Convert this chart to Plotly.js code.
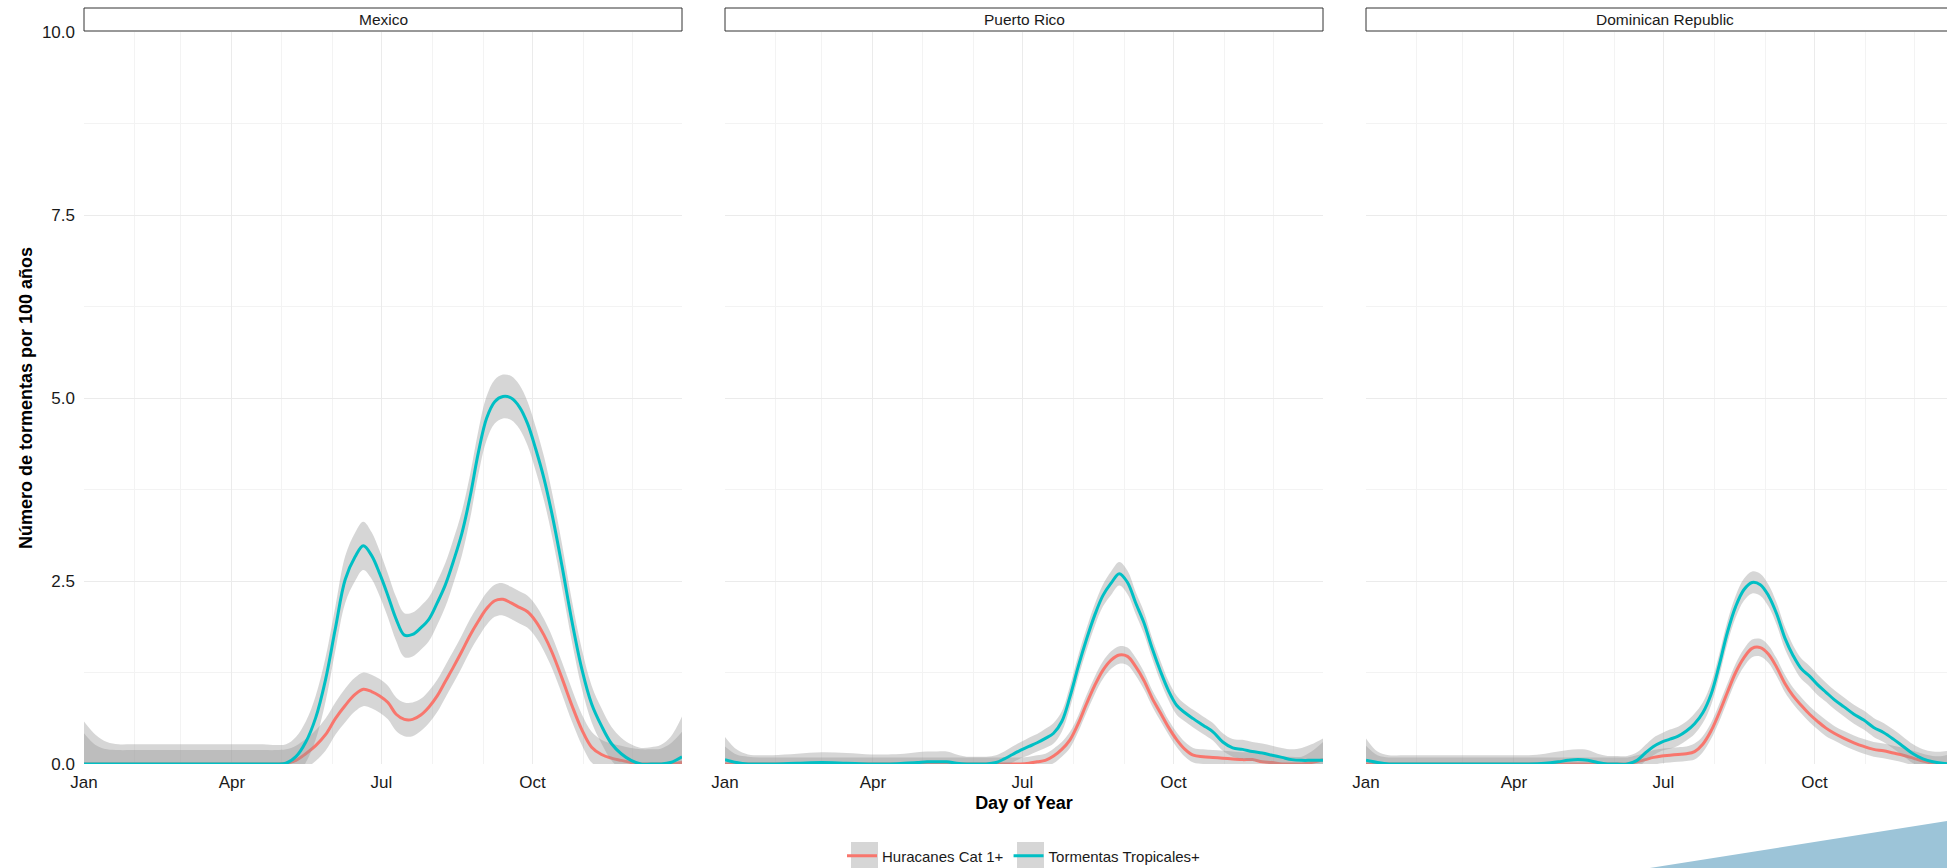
<!DOCTYPE html>
<html>
<head>
<meta charset="utf-8">
<script src="https://cdn.plot.ly/plotly-3.0.1.min.js"></script>
<style>
html,body{margin:0;padding:0;overflow:hidden;background:#ffffff;}
#chart{width:2000px;height:868px;}
</style>
</head>
<body>
<div id="chart"></div>
<script>
// ---------- DATA ----------
const countries = ['Mexico', 'Puerto Rico', 'Dominican Republic'];
const seriesNames = ['Huracanes Cat 1+', 'Tormentas Tropicales+'];
const monthLabels = ['Jan', 'Apr', 'Jul', 'Oct'];
const yTicks = [0, 2.5, 5, 7.5, 10];

// day of year
const days = [1, 8, 15, 22, 30, 45, 60, 75, 90, 100, 110, 118, 124, 130, 136, 142, 148, 154, 160, 166,
  171, 176, 181, 186, 191, 196, 201, 206, 211, 216, 221, 226, 231, 236, 241, 246, 251, 256, 261, 266,
  271, 276, 281, 286, 292, 298, 304, 310, 316, 322, 328, 334, 340, 346, 352, 358, 365];

// Mexico
const mexHur = [0, 0, 0, 0, 0, 0, 0, 0, 0, 0, 0, 0, 0.01, 0.05, 0.14, 0.25, 0.40, 0.62, 0.80, 0.95,
  1.02, 0.99, 0.93, 0.84, 0.68, 0.61, 0.61, 0.67, 0.78, 0.93, 1.13, 1.33, 1.54, 1.76, 1.95, 2.12, 2.23, 2.25, 2.20, 2.14,
  2.08, 1.95, 1.76, 1.52, 1.17, 0.80, 0.47, 0.23, 0.13, 0.08, 0.05, 0.02, 0, 0, 0, 0, 0.02];
const mexHurSE = [0.42, 0.26, 0.20, 0.19, 0.19, 0.19, 0.19, 0.19, 0.19, 0.19, 0.19, 0.19, 0.19, 0.20, 0.20, 0.21, 0.22, 0.22, 0.23, 0.23,
  0.23, 0.23, 0.23, 0.23, 0.23, 0.23, 0.23, 0.22, 0.22, 0.22, 0.22, 0.22, 0.22, 0.22, 0.22, 0.22, 0.22, 0.22, 0.22, 0.22,
  0.22, 0.22, 0.22, 0.22, 0.22, 0.22, 0.21, 0.21, 0.20, 0.20, 0.20, 0.20, 0.20, 0.20, 0.21, 0.28, 0.42];
const mexTor = [0, 0, 0, 0, 0, 0, 0, 0, 0, 0, 0, 0, 0.01, 0.10, 0.30, 0.63, 1.15, 1.85, 2.52, 2.83,
  2.98, 2.85, 2.60, 2.30, 1.98, 1.76, 1.77, 1.86, 1.98, 2.20, 2.45, 2.78, 3.15, 3.65, 4.25, 4.72, 4.95, 5.02, 5.00, 4.88,
  4.65, 4.30, 3.90, 3.40, 2.70, 1.95, 1.30, 0.82, 0.52, 0.28, 0.14, 0.05, 0, 0, 0, 0.02, 0.10];
const mexTorSE = [0.58, 0.40, 0.30, 0.27, 0.27, 0.27, 0.27, 0.27, 0.27, 0.27, 0.27, 0.26, 0.26, 0.27, 0.28, 0.30, 0.30, 0.30, 0.32, 0.33,
  0.33, 0.32, 0.31, 0.30, 0.30, 0.30, 0.30, 0.30, 0.30, 0.30, 0.30, 0.30, 0.30, 0.30, 0.30, 0.30, 0.30, 0.30, 0.30, 0.30,
  0.30, 0.30, 0.30, 0.30, 0.30, 0.28, 0.27, 0.25, 0.24, 0.23, 0.22, 0.22, 0.22, 0.23, 0.26, 0.35, 0.55];

// Puerto Rico
const prHur = [0, 0, 0, 0, 0, 0, 0, 0, 0, 0, 0, 0, 0, 0, 0, 0, 0, 0, 0, 0,
  0, 0, 0, 0.01, 0.03, 0.05, 0.11, 0.20, 0.33, 0.55, 0.82, 1.07, 1.28, 1.42, 1.49, 1.47, 1.33, 1.14, 0.90, 0.70,
  0.50, 0.33, 0.20, 0.12, 0.10, 0.09, 0.08, 0.07, 0.06, 0.06, 0.03, 0.02, 0, 0, 0, 0.02, 0.06];
const prHurSE = [0.24, 0.13, 0.10, 0.09, 0.09, 0.09, 0.09, 0.09, 0.09, 0.09, 0.09, 0.09, 0.09, 0.09, 0.09, 0.09, 0.09, 0.09, 0.09, 0.09,
  0.09, 0.09, 0.09, 0.09, 0.09, 0.09, 0.10, 0.10, 0.11, 0.11, 0.12, 0.12, 0.12, 0.12, 0.12, 0.12, 0.12, 0.12, 0.11, 0.11,
  0.10, 0.10, 0.10, 0.10, 0.10, 0.10, 0.10, 0.10, 0.10, 0.10, 0.10, 0.10, 0.10, 0.10, 0.10, 0.15, 0.24];
const prTor = [0.06, 0.02, 0, 0, 0, 0.01, 0.02, 0.01, 0, 0, 0.01, 0.02, 0.03, 0.03, 0.03, 0.01, 0, 0, 0, 0.02,
  0.07, 0.13, 0.19, 0.24, 0.29, 0.35, 0.42, 0.58, 0.92, 1.33, 1.70, 2.03, 2.30, 2.47, 2.60, 2.48, 2.20, 1.93, 1.58, 1.27,
  1.00, 0.80, 0.70, 0.62, 0.53, 0.44, 0.30, 0.22, 0.20, 0.17, 0.15, 0.12, 0.09, 0.06, 0.05, 0.05, 0.05];
const prTorSE = [0.31, 0.18, 0.13, 0.12, 0.12, 0.13, 0.14, 0.14, 0.13, 0.13, 0.13, 0.14, 0.14, 0.14, 0.14, 0.12, 0.10, 0.10, 0.10, 0.10,
  0.10, 0.11, 0.11, 0.12, 0.12, 0.13, 0.14, 0.14, 0.15, 0.15, 0.15, 0.15, 0.15, 0.16, 0.16, 0.16, 0.15, 0.15, 0.14, 0.14,
  0.13, 0.13, 0.12, 0.12, 0.12, 0.12, 0.12, 0.12, 0.13, 0.13, 0.13, 0.13, 0.13, 0.14, 0.17, 0.22, 0.30];

// Dominican Republic
const drHur = [0, 0, 0, 0, 0, 0, 0, 0, 0, 0, 0, 0, 0, 0, 0, 0, 0, 0, 0, 0.03,
  0.06, 0.09, 0.11, 0.12, 0.13, 0.14, 0.17, 0.27, 0.45, 0.70, 0.98, 1.25, 1.45, 1.58, 1.59, 1.50, 1.32, 1.10, 0.93, 0.80,
  0.68, 0.58, 0.49, 0.42, 0.35, 0.29, 0.24, 0.20, 0.18, 0.15, 0.12, 0.08, 0.04, 0.01, 0, 0, 0];
const drHurSE = [0.25, 0.12, 0.09, 0.09, 0.09, 0.09, 0.09, 0.09, 0.09, 0.09, 0.09, 0.09, 0.09, 0.09, 0.09, 0.09, 0.09, 0.09, 0.09, 0.09,
  0.09, 0.10, 0.10, 0.10, 0.10, 0.10, 0.11, 0.11, 0.11, 0.12, 0.12, 0.12, 0.12, 0.12, 0.12, 0.12, 0.12, 0.12, 0.11, 0.11,
  0.11, 0.11, 0.11, 0.10, 0.10, 0.10, 0.10, 0.10, 0.10, 0.10, 0.10, 0.10, 0.10, 0.10, 0.11, 0.15, 0.24];
const drTor = [0.05, 0.02, 0, 0, 0, 0, 0, 0, 0, 0, 0.01, 0.03, 0.05, 0.06, 0.05, 0.02, 0, 0, 0, 0.05,
  0.15, 0.24, 0.30, 0.34, 0.38, 0.45, 0.55, 0.70, 0.95, 1.35, 1.80, 2.15, 2.38, 2.48, 2.45, 2.30, 2.05, 1.72, 1.48, 1.30,
  1.20, 1.08, 0.98, 0.88, 0.78, 0.68, 0.60, 0.50, 0.43, 0.34, 0.24, 0.14, 0.07, 0.03, 0.01, 0, 0];
const drTorSE = [0.30, 0.15, 0.12, 0.12, 0.12, 0.12, 0.12, 0.12, 0.12, 0.12, 0.13, 0.14, 0.14, 0.14, 0.14, 0.12, 0.11, 0.11, 0.11, 0.11,
  0.11, 0.12, 0.12, 0.13, 0.13, 0.13, 0.14, 0.14, 0.15, 0.15, 0.15, 0.15, 0.15, 0.15, 0.15, 0.15, 0.15, 0.15, 0.14, 0.14,
  0.14, 0.14, 0.13, 0.13, 0.13, 0.13, 0.13, 0.13, 0.13, 0.13, 0.13, 0.13, 0.13, 0.14, 0.16, 0.20, 0.30];

// ---------- BUILD ----------
const FONT = 'Liberation Sans, Arial, Helvetica, sans-serif';
const seriesColors = ['#F8766D', '#00BFC4'];
const ribbonFill = 'rgba(153,153,153,0.4)';

function toDate(d) {
  const t = Date.UTC(2001, 0, 1) + (d - 1) * 86400000;
  return new Date(t).toISOString().slice(0, 10);
}
const xDates = days.map(toDate);

const panels = [
  {axis: '', series: [[mexHur, mexHurSE], [mexTor, mexTorSE]]},
  {axis: '2', series: [[prHur, prHurSE], [prTor, prTorSE]]},
  {axis: '3', series: [[drHur, drHurSE], [drTor, drTorSE]]}
];

const traces = [];
panels.forEach((p, pi) => {
  p.series.forEach(([vals, se], si) => {
    const common = {x: xDates, xaxis: 'x' + p.axis, yaxis: 'y' + p.axis, mode: 'lines', hoverinfo: 'skip'};
    traces.push(Object.assign({}, common, {
      y: vals.map((v, i) => v - se[i]), line: {width: 0, shape: 'spline', smoothing: 1}, showlegend: false
    }));
    traces.push(Object.assign({}, common, {
      y: vals.map((v, i) => v + se[i]), line: {width: 0, shape: 'spline', smoothing: 1},
      fill: 'tonexty', fillcolor: ribbonFill, showlegend: false
    }));
    traces.push(Object.assign({}, common, {
      y: vals, name: seriesNames[si], legendgroup: seriesNames[si], showlegend: pi === 0,
      line: {color: seriesColors[si], width: 3, shape: 'spline', smoothing: 1}
    }));
  });
});

const L = 84, PW = 1880;
const panelW = 598, gap = 43;
const domains = [0, 1, 2].map(i => [(i * (panelW + gap)) / PW, Math.min(1, (i * (panelW + gap) + panelW) / PW)]);

function xaxisDef(i) {
  return {
    domain: domains[i], anchor: i === 0 ? 'y' : 'y' + (i + 1),
    type: 'date', range: ['2001-01-01', '2001-12-31'],
    tickmode: 'array',
    tickvals: monthLabels.map((m, k) => toDate([1, 91, 182, 274][k])),
    ticktext: monthLabels,
    showgrid: true, gridcolor: '#EBEBEB', gridwidth: 1.2,
    minor: {dtick: 'M1', tick0: '2001-01-01', showgrid: true, gridcolor: '#F3F3F3', gridwidth: 1, ticks: ''},
    zeroline: false, showline: false, ticks: '', ticklabelstandoff: 6,
    tickfont: {size: 17, color: '#1a1a1a', family: FONT},
    fixedrange: true, automargin: false
  };
}
function yaxisDef(i) {
  return {
    domain: [0, 1], anchor: i === 0 ? 'x' : 'x' + (i + 1),
    range: [0, 10], tickmode: 'array', tickvals: yTicks, ticktext: yTicks.map(v => v.toFixed(1)),
    showticklabels: i === 0,
    showgrid: true, gridcolor: '#EBEBEB', gridwidth: 1.2,
    minor: {tickmode: 'array', tickvals: [1.25, 3.75, 6.25, 8.75], showgrid: true, gridcolor: '#F3F3F3', gridwidth: 1, ticks: ''},
    zeroline: false, showline: false, ticks: '', ticklabelstandoff: 8,
    tickfont: {size: 17, color: '#1a1a1a', family: FONT},
    fixedrange: true, automargin: false
  };
}

const H = 868, T = 32, B = 104, PH = H - T - B;
const py = px => (H - B - px) / PH;   // pixel y -> paper y
const pxX = px => (px - L) / PW;     // pixel x -> paper x

const layout = {
  width: 2000, height: H,
  margin: {l: L, r: 2000 - L - PW, t: T, b: B, autoexpand: false},
  paper_bgcolor: '#ffffff', plot_bgcolor: '#ffffff',
  font: {family: FONT, size: 17, color: '#1a1a1a'},
  showlegend: true,
  legend: {orientation: 'h', x: 0.5, xanchor: 'center', y: py(856), yanchor: 'middle',
    font: {size: 15, color: '#1a1a1a', family: FONT}, bgcolor: 'rgba(0,0,0,0)', itemwidth: 30},
  shapes: [], annotations: []
};
[0, 1, 2].forEach(i => {
  const s = i === 0 ? '' : String(i + 1);
  layout['xaxis' + s] = xaxisDef(i);
  layout['yaxis' + s] = yaxisDef(i);
  layout.shapes.push({type: 'rect', xref: 'x' + s + ' domain', yref: 'paper', x0: 0, x1: 1,
    y0: py(31), y1: py(8), fillcolor: '#ffffff', line: {color: '#333333', width: 1}});
  layout.annotations.push({text: countries[i], xref: 'x' + s + ' domain', yref: 'paper', x: 0.5, y: py(19.5),
    xanchor: 'center', yanchor: 'middle', showarrow: false, font: {size: 15.5, color: '#1a1a1a', family: FONT}});
});
layout.yaxis.title = {text: 'Número de tormentas por 100 años', font: {size: 18, weight: 'bold', color: '#000', family: FONT}, standoff: 4};
layout.xaxis2.title = {text: 'Day of Year', font: {size: 18, weight: 'bold', color: '#000', family: FONT}, standoff: 5};

// grey legend key backgrounds (ribbon keys)
[[851, 878], [1017, 1044]].forEach(([a, b]) => {
  layout.shapes.push({type: 'rect', xref: 'paper', yref: 'paper', layer: 'above',
    x0: pxX(a), x1: pxX(b), y0: py(870), y1: py(842), fillcolor: '#d6d6d6', line: {width: 0}});
});

// decorative corner triangle
layout.shapes.push({type: 'path', xref: 'paper', yref: 'paper', layer: 'above',
  path: `M ${pxX(1574)},${py(880)} L ${pxX(2000)},${py(812.6)} L ${pxX(2000)},${py(880)} Z`,
  fillcolor: '#9cc4d8', line: {width: 0}});

Plotly.newPlot('chart', traces, layout, {displayModeBar: false, responsive: false});
</script>
</body>
</html>
